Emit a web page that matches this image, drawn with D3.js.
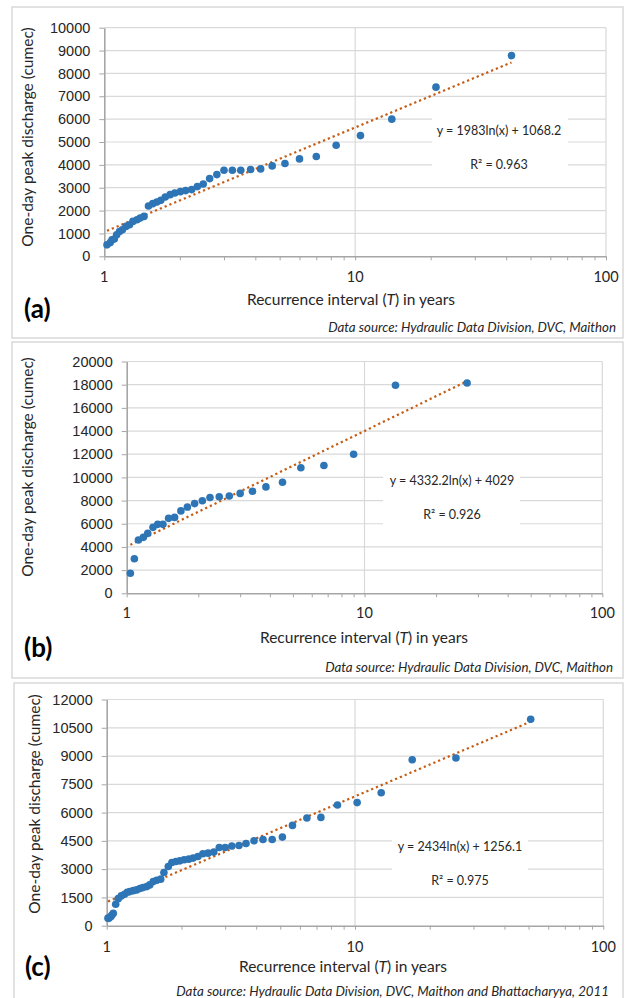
<!DOCTYPE html>
<html>
<head>
<meta charset="utf-8">
<script src="https://cdnjs.cloudflare.com/ajax/libs/d3/7.8.5/d3.min.js"></script>
<style>
  body { margin: 0; background: #fff; }
  svg { display: block; font-family: Lato, "Open Sans", sans-serif; }
</style>
</head>
<body>
<svg id="chart" width="625" height="998"></svg>
<script>
// panel (a): recurrence interval (years) and one-day peak discharge (cumec)
const tA = [42, 21, 14, 10.5, 8.4, 7, 6, 5.25, 4.67, 4.2, 3.83, 3.5, 3.24, 3.0, 2.81, 2.63, 2.48, 2.35,
  2.23, 2.11, 2.01, 1.91, 1.83, 1.75, 1.68, 1.62, 1.56, 1.5, 1.44, 1.39, 1.35, 1.3, 1.26, 1.22, 1.18,
  1.15, 1.12, 1.096, 1.073, 1.056, 1.025];
const qA = [8780, 7400, 6000, 5280, 4860, 4364, 4260, 4057, 3954, 3823, 3794, 3765, 3765, 3765, 3575,
  3400, 3166, 3048, 2917, 2873, 2829, 2770, 2697, 2596, 2448, 2377, 2303, 2200, 1745, 1675, 1600, 1526,
  1382, 1307, 1162, 1088, 943, 754, 724, 600, 500];

// panel (b)
const tB = [27, 13.5, 9, 6.75, 5.4, 4.52, 3.85, 3.38, 3.0, 2.7, 2.45, 2.24, 2.08, 1.93, 1.8, 1.69, 1.59,
  1.5, 1.42, 1.35, 1.29, 1.226, 1.175, 1.12, 1.077, 1.036];
const qB = [18150, 17950, 12000, 11030, 10830, 9580, 9180, 8810, 8620, 8400, 8330, 8260, 7983, 7740,
  7440, 7110, 6550, 6465, 5948, 5948, 5690, 5172, 4828, 4595, 2985, 1725];

// panel (c)
const tC = [51, 25.5, 17, 12.75, 10.2, 8.5, 7.29, 6.4, 5.6, 5.1, 4.64, 4.26, 3.92, 3.64, 3.41, 3.19, 3.0,
  2.84, 2.7, 2.56, 2.44, 2.33, 2.23, 2.14, 2.05, 1.97, 1.9, 1.83, 1.77, 1.7, 1.65, 1.59, 1.54, 1.49,
  1.45, 1.4, 1.36, 1.32, 1.28, 1.24, 1.21, 1.18, 1.145, 1.113, 1.087, 1.063, 1.05, 1.038, 1.02, 1.012];
const qC = [10950, 8900, 8800, 7050, 6530, 6400, 5745, 5713, 5320, 4700, 4575, 4575, 4505, 4360, 4255,
  4225, 4150, 4150, 3905, 3850, 3815, 3670, 3585, 3530, 3495, 3440, 3405, 3350, 3140, 2820, 2470, 2415,
  2340, 2165, 2075, 2020, 1970, 1900, 1860, 1810, 1775, 1670, 1580, 1436, 1138, 660, 570, 480, 390, 400];

// log trend coefficients: y = a ln(x) + b
const fitA = [1983, 1068.2], fitB = [4332.2, 4029], fitC = [2434, 1256.1];
const eqA = ['y = 1983ln(x) + 1068.2', 'R² = 0.963'];
const eqB = ['y = 4332.2ln(x) + 4029', 'R² = 0.926'];
const eqC = ['y = 2434ln(x) + 1256.1', 'R² = 0.975'];

const yTicksA = [0, 1000, 2000, 3000, 4000, 5000, 6000, 7000, 8000, 9000, 10000];
const yTicksB = [0, 2000, 4000, 6000, 8000, 10000, 12000, 14000, 16000, 18000, 20000];
const yTicksC = [0, 1500, 3000, 4500, 6000, 7500, 9000, 10500, 12000];
const xMajor = [1, 10, 100];
const xMinor = [2, 3, 4, 5, 6, 7, 8, 9, 20, 30, 40, 50, 60, 70, 80, 90];

const srcAB = 'Data source: Hydraulic Data Division, DVC, Maithon';
const srcC = 'Data source: Hydraulic Data Division, DVC, Maithon and Bhattacharyya, 2011';

const blue = '#2E75B6', orange = '#C55A11', grid = '#d9d9d9', axisCol = '#a6a6a6', txt = '#262626';

const svg = d3.select('#chart');

const panels = [
  { tag: '(a)', t: tA, q: qA, fit: fitA, eq: eqA, yTicks: yTicksA, src: srcAB,
    frame: [12, 7, 611, 331], px: [104.3, 606], py: [256.3, 27.7],
    box: [432, 114, 136, 58], eqX: 499, eqY: [134.5, 168.5],
    yTitle: [27.5, 137], xTitle: [351, 305], xLab: 282, tagPos: [24, 318], srcPos: [616, 332] },
  { tag: '(b)', t: tB, q: qB, fit: fitB, eq: eqB, yTicks: yTicksB, src: srcAB,
    frame: [12, 342, 611, 336], px: [126.7, 602.3], py: [593.3, 361.5],
    box: [383, 466, 137, 64], eqX: 452, eqY: [484.5, 518.5],
    yTitle: [27.5, 467], xTitle: [364, 643], xLab: 618, tagPos: [24, 657], srcPos: [613, 672] },
  { tag: '(c)', t: tC, q: qC, fit: fitC, eq: eqC, yTicks: yTicksC, src: srcC,
    frame: [14, 683, 609, 330], px: [106.7, 603.3], py: [925.7, 699.5],
    box: [392, 829, 136, 66], eqX: 460, eqY: [850.5, 884.5],
    yTitle: [35, 804], xTitle: [343, 972], xLab: 951.5, tagPos: [25, 976], srcPos: [609, 996] }
];

panels.forEach(p => {
  const g = svg.append('g');
  const [fx, fy, fw, fh] = p.frame;
  g.append('rect').attr('x', fx).attr('y', fy).attr('width', fw).attr('height', fh)
    .attr('fill', '#fff').attr('stroke', grid).attr('stroke-width', 1.5);

  const x = d3.scaleLog().domain([1, 100]).range(p.px);
  const y = d3.scaleLinear().domain([0, d3.max(p.yTicks)]).range(p.py);

  // gridlines
  g.selectAll('.hg').data(p.yTicks.slice(1)).enter().append('line')
    .attr('x1', p.px[0]).attr('x2', p.px[1])
    .attr('y1', d => y(d)).attr('y2', d => y(d))
    .attr('stroke', grid).attr('stroke-width', 1.2);
  g.selectAll('.vg').data(xMajor.slice(1)).enter().append('line')
    .attr('x1', d => x(d)).attr('x2', d => x(d))
    .attr('y1', p.py[0]).attr('y2', p.py[1])
    .attr('stroke', grid).attr('stroke-width', 1.2);

  // equation label background
  const [bx, by, bw, bh] = p.box;
  g.append('rect').attr('x', bx).attr('y', by).attr('width', bw).attr('height', bh).attr('fill', '#fff');

  // axes
  const yAxis = g.append('g').attr('transform', `translate(${p.px[0]},0)`)
    .call(d3.axisLeft(y).tickValues(p.yTicks).tickFormat(d3.format('d'))
      .tickSize(5).tickSizeOuter(0).tickPadding(9));
  const xAxis = g.append('g').attr('transform', `translate(0,${p.py[0]})`)
    .call(d3.axisBottom(x).tickValues(xMajor.concat(xMinor)).tickSize(4).tickSizeOuter(0).tickFormat(''));
  [yAxis, xAxis].forEach(a => {
    a.select('.domain').attr('stroke', axisCol).attr('stroke-width', 1.6);
    a.selectAll('.tick line').attr('stroke', axisCol).attr('stroke-width', 1);
  });
  yAxis.selectAll('.tick text').attr('fill', txt).style('font-size', '14.5px');

  g.selectAll('.xl').data(xMajor).enter().append('text')
    .attr('x', d => x(d)).attr('y', p.xLab).attr('text-anchor', 'middle')
    .attr('fill', txt).style('font-size', '14.5px').text(d => d);

  // trend line (straight in log-x)
  const tMin = d3.min(p.t), tMax = d3.max(p.t);
  const fitPts = [tMin, tMax].map(t => [t, p.fit[0] * Math.log(t) + p.fit[1]]);
  g.append('path').datum(fitPts)
    .attr('d', d3.line().x(d => x(d[0])).y(d => y(d[1])))
    .attr('fill', 'none').attr('stroke', orange).attr('stroke-width', 2.2)
    .attr('stroke-dasharray', '2.2 3');

  // points
  g.selectAll('.pt').data(p.t.map((t, i) => [t, p.q[i]])).enter().append('circle')
    .attr('cx', d => x(d[0])).attr('cy', d => y(d[1])).attr('r', 3.8)
    .attr('fill', blue);

  // equation text
  p.eq.forEach((s, i) => {
    g.append('text').attr('x', p.eqX).attr('y', p.eqY[i]).attr('text-anchor', 'middle')
      .attr('fill', txt).style('font-size', '12.5px').text(s);
  });

  // titles
  g.append('text')
    .attr('transform', `translate(${p.yTitle[0] + 5},${p.yTitle[1]}) rotate(-90)`)
    .attr('text-anchor', 'middle').attr('fill', txt).style('font-size', '15.5px')
    .text('One-day peak discharge (cumec)');
  const xt = g.append('text').attr('x', p.xTitle[0]).attr('y', p.xTitle[1])
    .attr('text-anchor', 'middle').attr('fill', txt).style('font-size', '15.5px');
  xt.append('tspan').text('Recurrence interval (');
  xt.append('tspan').style('font-style', 'italic').text('T');
  xt.append('tspan').text(') in years');

  g.append('text').attr('x', p.tagPos[0]).attr('y', p.tagPos[1])
    .attr('fill', '#000').style('font-size', '26px').style('font-weight', 'bold').text(p.tag);

  g.append('text').attr('x', p.srcPos[0]).attr('y', p.srcPos[1]).attr('text-anchor', 'end')
    .attr('fill', txt).style('font-size', '13.3px').style('font-style', 'italic').text(p.src);
});
</script>
</body>
</html>
